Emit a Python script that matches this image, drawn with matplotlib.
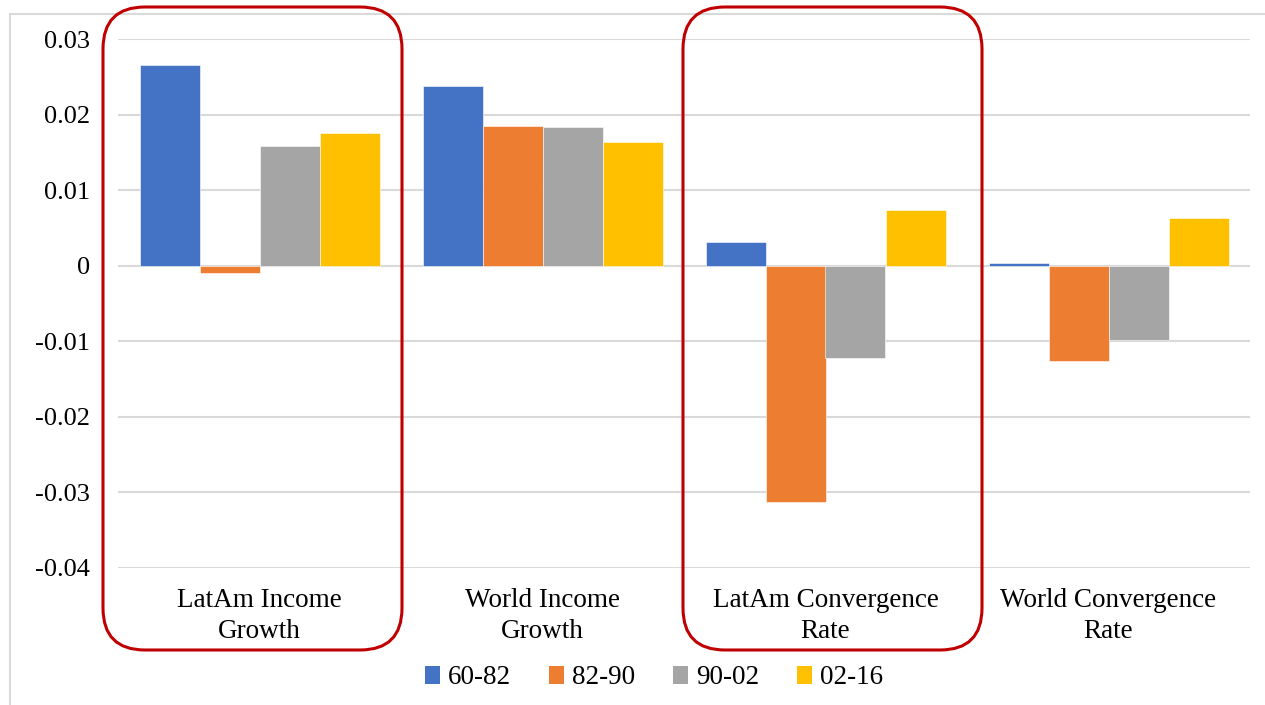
import numpy as np
import matplotlib
matplotlib.use("Agg")
import matplotlib.pyplot as plt
from matplotlib.patches import FancyBboxPatch, Rectangle, Patch
from matplotlib.transforms import IdentityTransform, blended_transform_factory

# -----------------------------
# Data
# -----------------------------
categories = ["LatAm Income\nGrowth", "World Income\nGrowth",
              "LatAm Convergence\nRate", "World Convergence\nRate"]
series_names = ["60-82", "82-90", "90-02", "02-16"]
vals_60_82 = [0.0266, 0.0238, 0.0032, 0.0004]
vals_82_90 = [-0.0009, 0.0185, -0.0313, -0.0126]
vals_90_02 = [0.0159, 0.0184, -0.0122, -0.0098]
vals_02_16 = [0.0175, 0.0164, 0.0074, 0.0063]
ytick_vals = [0.03, 0.02, 0.01, 0, -0.01, -0.02, -0.03, -0.04]
ytick_labels = ["0.03", "0.02", "0.01", "0", "-0.01", "-0.02", "-0.03", "-0.04"]
highlighted = [0, 2]  # categories circled in red

colors = ["#4472C4", "#ED7D31", "#A5A5A5", "#FFC000"]
series = [vals_60_82, vals_82_90, vals_90_02, vals_02_16]

plt.rcParams["font.family"] = ["Liberation Serif", "DejaVu Serif"]

W, H = 1265, 705
fig = plt.figure(figsize=(W / 100, H / 100), dpi=100)
fig.patch.set_facecolor("white")

# outer chart border (Excel chart area)
fig.add_artist(Rectangle((10, -20), W + 20, H - 14 + 20, transform=IdentityTransform(),
                         facecolor="none", edgecolor="#D9D9D9", lw=1.5, zorder=0))

ax = fig.add_axes([118 / W, (H - 568) / H, (1250 - 118) / W, (568 - 39) / H])
ax.set_facecolor("none")

x = np.arange(len(categories))
bar_w = 60 / 283
for j, (vals, col, name) in enumerate(zip(series, colors, series_names)):
    ax.bar(x + (j - 1.5) * bar_w, vals, width=bar_w, color=col, label=name,
           edgecolor="white", linewidth=0.4, zorder=3)

ax.set_xlim(-0.5, len(categories) - 0.5)
ax.set_ylim(-0.04, 0.03)
ax.set_yticks(ytick_vals)
ax.set_yticklabels(ytick_labels, fontsize=19)
ax.yaxis.grid(True, color="#D9D9D9", lw=1.5, zorder=0)
ax.set_axisbelow(True)
ax.tick_params(axis="y", length=0, pad=20)
ax.set_xticks([])
for s in ax.spines.values():
    s.set_visible(False)

# category labels under the plot
tr = blended_transform_factory(ax.transData, fig.transFigure)
for i, lab in enumerate(categories):
    ax.text(i, (H - 616) / H, lab, transform=tr, ha="center", va="center",
            fontsize=19.5, linespacing=1.33)

# legend
handles = [Patch(facecolor=c, edgecolor="none") for c in colors]
fig.legend(handles, series_names, loc="center", bbox_to_anchor=(654 / W, 1 - 678 / H),
           ncol=4, frameon=False, fontsize=19.5, handlelength=0.55, handleheight=0.65,
           handletextpad=0.3, columnspacing=1.4)

# red rounded highlight boxes (pixel extents, around categories 0 and 2)
box_x = {0: (103, 402), 2: (683, 982)}
for i in highlighted:
    x0, x1 = box_x[i]
    y0, y1 = H - 650, H - 7
    fig.add_artist(FancyBboxPatch((x0, y0), x1 - x0, y1 - y0,
                                  boxstyle="round,pad=0,rounding_size=42",
                                  transform=IdentityTransform(), facecolor="none",
                                  edgecolor="#C00000", lw=2.2, zorder=10))

fig.savefig("out.png", dpi=100)
